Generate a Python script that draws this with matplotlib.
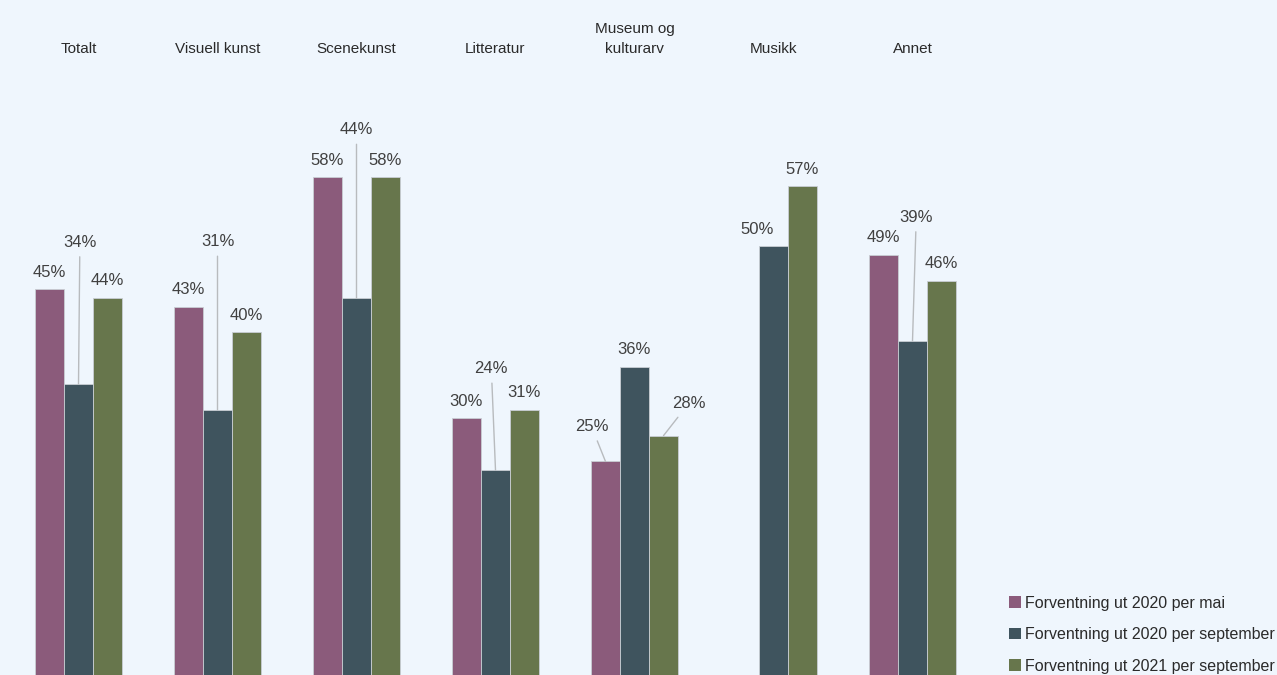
import numpy as np
import matplotlib.pyplot as plt
from matplotlib.patches import Patch

plt.rcParams['font.family'] = ['Liberation Sans', 'DejaVu Sans']

categories = ['Totalt', 'Visuell kunst', 'Scenekunst', 'Litteratur',
              'Museum og\nkulturarv', 'Musikk', 'Annet']
series_names = ['Forventning ut 2020 per mai',
                'Forventning ut 2020 per september',
                'Forventning ut 2021 per september']
mai_2020 = [45, 43, 58, 30, 25, np.nan, 49]
sep_2020 = [34, 31, 44, 24, 36, 50, 39]
sep_2021 = [44, 40, 58, 31, 28, 57, 46]

colors = ['#8b5b7b', '#3f545e', '#67764c']
BG = '#eff6fd'
TEXT = '#404040'

# label offsets (points) for labels moved away from their bar; (group, series) -> (dx, dy, leader line)
label_offsets = {
    (0, 1): (1, 102, True),
    (1, 1): (0, 121, True),
    (2, 1): (0, 121, True),
    (3, 1): (-3, 73, True),
    (4, 0): (-10, 25, True),
    (4, 2): (18, 23, True),
    (5, 1): (-11.5, 12.2, False),
    (6, 1): (2.7, 89, True),
}

fig = plt.figure(figsize=(12.77, 6.75), dpi=100)
fig.patch.set_facecolor(BG)
ax = fig.add_axes([0, 0, 1, 1])
ax.set_facecolor(BG)

x = np.arange(len(categories))
w = 29 / 139
values = [mai_2020, sep_2020, sep_2021]
for s, vals in enumerate(values):
    xs = x + (s - 1) * w
    ax.bar(xs, vals, width=w, color=colors[s], edgecolor='#c9ced4', linewidth=0.6,
           label=series_names[s], zorder=2)
    for g, v in enumerate(vals):
        if np.isnan(v):
            continue
        dx, dy, line = label_offsets.get((g, s), (0, 12.2, False))
        kw = {}
        if line:
            kw['arrowprops'] = dict(arrowstyle='-', color='#b8bbbe', lw=1.0,
                                    shrinkA=3, shrinkB=0)
        ax.annotate(f'{v:.0f}%', xy=(xs[g], v), xytext=(dx, dy),
                    textcoords='offset points', ha='center', va='center',
                    fontsize=12, color=TEXT, zorder=3, **kw)

# category titles along the top
for g, name in enumerate(categories):
    ax.text(x[g], 1 - 56 / 675, name, transform=ax.get_xaxis_transform(),
            ha='center', va='bottom', fontsize=11, color='#2a2a2a',
            linespacing=1.55)

ax.set_xlim(-78.5 / 139, (1277 - 78.5) / 139)
ax.set_ylim(0.2, 78.6)
for sp in ax.spines.values():
    sp.set_visible(False)
ax.set_xticks([])
ax.set_yticks([])

handles = [Patch(facecolor=c, edgecolor='none') for c in colors]
fig.legend(handles, series_names, loc='lower right', bbox_to_anchor=(1.0055, -0.012),
           frameon=False, fontsize=11.5, labelcolor='#2a2a2a', handlelength=0.72,
           handleheight=0.72, handletextpad=0.25, labelspacing=1.03, borderaxespad=0.2)

fig.savefig('out.png', dpi=100, facecolor=BG)
